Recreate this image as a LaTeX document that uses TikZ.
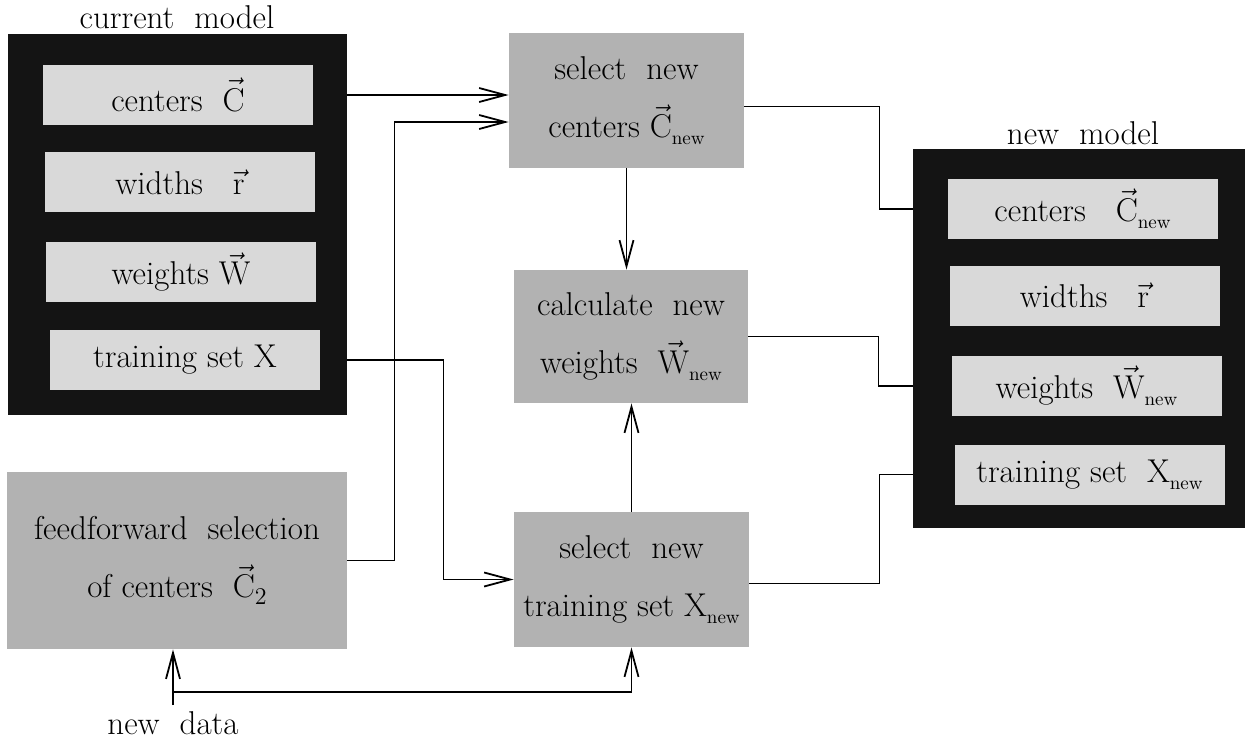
\documentclass[tikz,border=0pt]{standalone}
\usepackage{fontspec}
\usetikzlibrary{arrows.meta}
\newcommand{\vecl}[1]{\ensuremath{\vec{\mbox{#1}}}}
\newcommand{\subnew}{\raisebox{-0.5ex}{\fontsize{9.5}{10}\selectfont new}}
\newcommand{\subtwo}{\raisebox{-0.5ex}{\fontsize{12}{13}\selectfont 2}}
\begin{document}
\begin{tikzpicture}[x=0.5pt,y=-0.5pt,font=\fontsize{16.5}{19}\selectfont,
    modelbox/.style={fill=black!92,inner sep=0pt},
    fieldbox/.style={fill=black!15,minimum width=135pt,minimum height=30pt,inner sep=0pt},
    procbox/.style={fill=black!30,align=center,inner sep=0pt,font=\fontsize{16.5}{29}\selectfont},
    conn/.style={line width=0.9pt},
    arr/.style={conn,-{Straight Barb[length=13pt,width=7pt]}}]
\useasboundingbox (0,0) rectangle (1250,740);

% Current model
\node[modelbox,minimum width=169.5pt,minimum height=190.5pt] (cur) at (177.5,224.5) {};
\node[anchor=base] (curlabel) at (177,28) {current~~model};
\foreach \i/\x/\y/\txt in {
    1/178/95/centers~~\vecl{C},
    2/180/182/widths~~~\vecl{r},
    3/181/272/weights~\vecl{W},
    4/185/360/training set X
} {
    \node[fieldbox] (cur\i) at (\x,\y) {\txt};
}

% Processing steps
\node[procbox,minimum width=117.5pt,minimum height=67.5pt] (selc) at (626.5,100.5) {select~~new\\centers \vecl{C}\subnew};
\node[procbox,minimum width=117pt,minimum height=66.5pt] (calc) at (631,336.5) {calculate~~new\\weights~~\vecl{W}\subnew};
\node[procbox,minimum width=117.5pt,minimum height=67.5pt] (selx) at (631.5,579.5) {select~~new\\training set X\subnew};
\node[procbox,minimum width=170pt,minimum height=88.5pt] (feed) at (177,560.5) {feedforward~~selection\\of centers~~\vecl{C}\subtwo};

% New model
\node[modelbox,minimum width=166pt,minimum height=189.5pt] (newm) at (1079,338.5) {};
\node[anchor=base] (newlabel) at (1083,144) {new~~model};
\foreach \i/\x/\y/\txt in {
    1/1082.5/209/centers~~~\vecl{C}\subnew,
    2/1084.5/295.5/widths~~~\vecl{r},
    3/1086.5/386/weights~~\vecl{W}\subnew,
    4/1089.5/474.5/training set~~X\subnew
} {
    \node[fieldbox] (new\i) at (\x,\y) {\txt};
}

% New data
\coordinate (data) at (173,705);
\coordinate (split) at (173,692);
\node[anchor=base] (datalabel) at (173,734) {new~~data};

% Connectors
\draw[arr] (cur1 -| cur.east) -- (cur1 -| selc.west);
\draw[arr] (feed.east) -- ++(47,0) |- ([yshift=-10.75pt]selc.west);
\draw[arr] (cur4 -| cur.east) -- ++(96,0) |- (selx.west);
\draw[arr] (selc.south) -- (selc.south |- calc.north);
\draw[arr] (selx.north) -- (selx.north |- calc.south);
\draw[arr] (data) -- (data |- feed.south);
\draw[arr] (split) -| (selx.south);
\draw[conn] ([yshift=-3pt]selc.east) -- ++(135,0) |- (new1 -| newm.west);
\draw[conn] (calc.east) -- ++(130,0) |- (new3 -| newm.west);
\draw[conn] ([yshift=-2pt]selx.east) -- ++(130,0) |- (new4 -| newm.west);
\end{tikzpicture}
\end{document}
